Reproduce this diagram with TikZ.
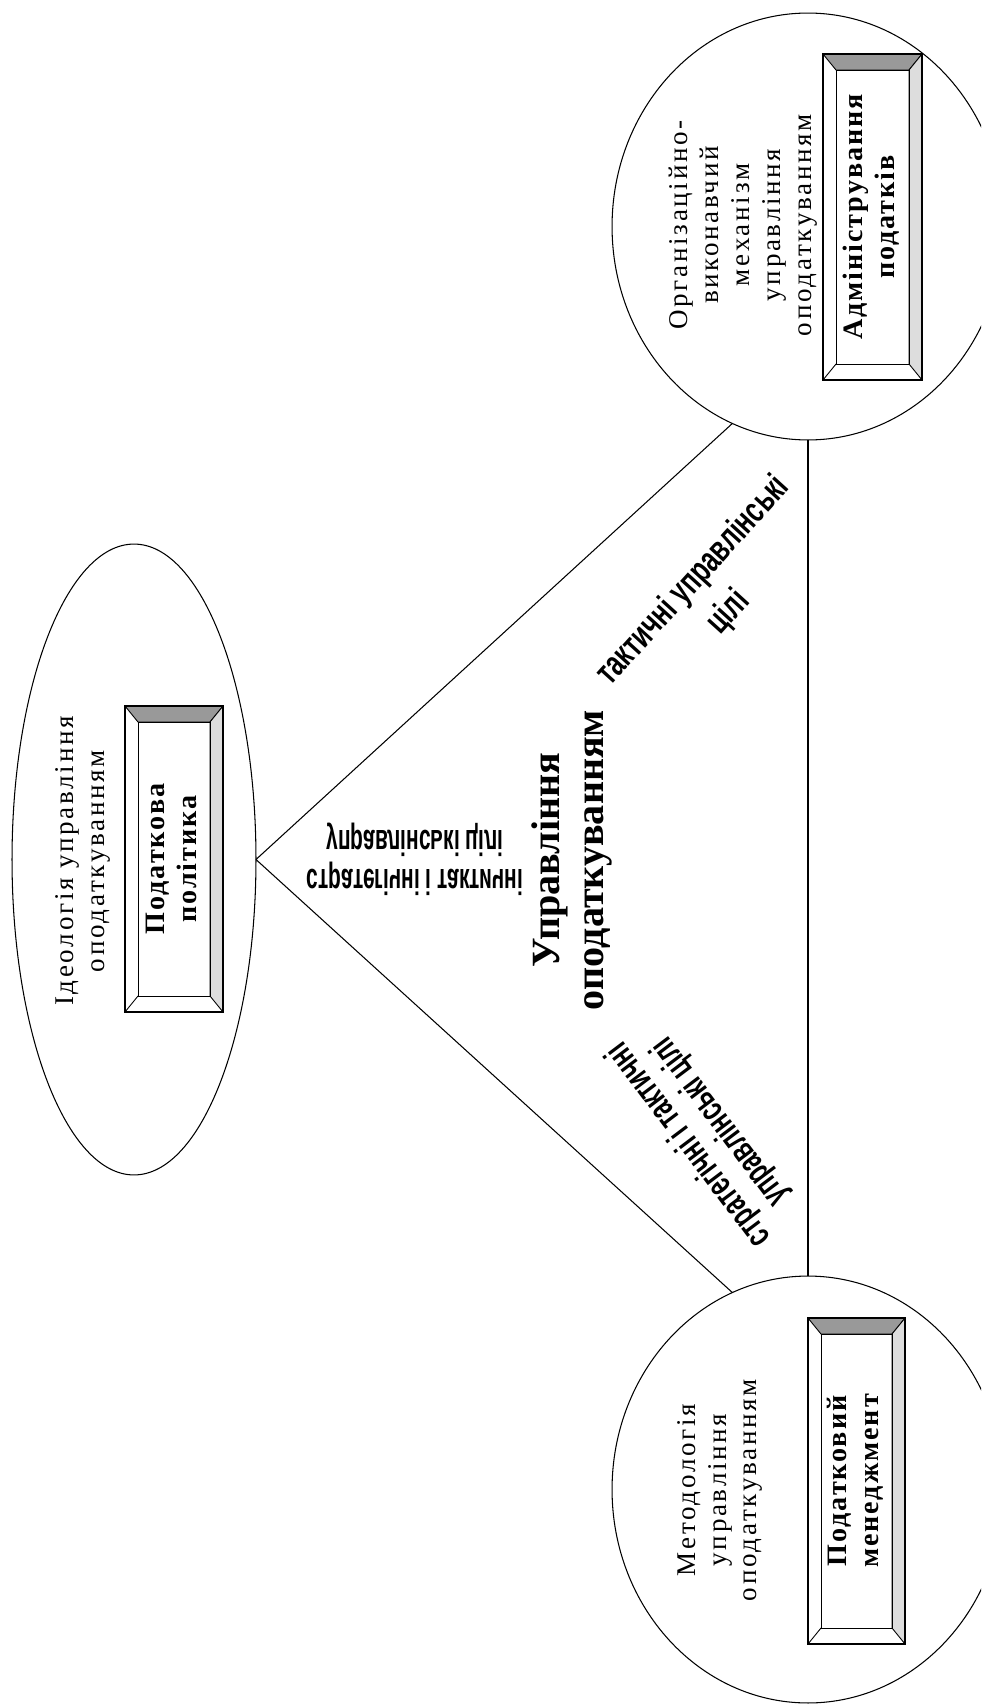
\documentclass[tikz,border=0pt]{standalone}
\usepackage{fontspec}
\setmainfont{Liberation Serif}
\newfontfamily\labelfont{Liberation Sans}
\usetikzlibrary{shapes.geometric}
\definecolor{bevdark}{HTML}{999999}
\definecolor{bevlight}{HTML}{DDDDDD}
\newcommand{\vtext}[1]{\rotatebox{90}{\begin{tabular}{@{}c@{}}#1\end{tabular}}}

\begin{document}
\begin{tikzpicture}[x=0.02cm, y=-0.02cm, line width=0.6pt,
    oval/.style={draw, ellipse, inner sep=0pt, outer sep=0pt},
    plain/.style={rotate=90, align=center, inner sep=0pt,
      font=\fontsize{15.4}{17.6}\selectfont\addfontfeatures{LetterSpace=10}},
    title/.style={rotate=90, align=center, inner sep=0pt,
      font=\fontsize{22.8}{25}\selectfont\bfseries},
    goal/.style={align=center, inner sep=0pt,
      font=\labelfont\bfseries\fontsize{20.5}{22}\selectfont},
    bevelbox/.style={draw, line width=0.8pt, inner sep=0pt, outer sep=0pt,
      font=\fontsize{16}{18.2}\selectfont\bfseries\addfontfeatures{LetterSpace=7},
      path picture={
        \path (path picture bounding box.north west) coordinate (nw)
              (path picture bounding box.north east) coordinate (ne)
              (path picture bounding box.south west) coordinate (sw)
              (path picture bounding box.south east) coordinate (se);
        \draw[line width=0.5pt, fill=bevdark] (nw) -- (ne)
          -- ([xshift=-0.26cm, yshift=-0.32cm]ne) -- ([xshift=0.26cm, yshift=-0.32cm]nw) -- cycle;
        \draw[line width=0.5pt, fill=bevlight] (ne) -- (se)
          -- ([xshift=-0.26cm, yshift=0.32cm]se) -- ([xshift=-0.26cm, yshift=-0.32cm]ne) -- cycle;
        \draw[line width=0.5pt] ([xshift=0.26cm, yshift=-0.32cm]nw) rectangle ([xshift=-0.26cm, yshift=0.32cm]se);
        \draw[line width=0.5pt] (sw) -- ([xshift=0.26cm, yshift=0.32cm]sw);
      }}]
  \useasboundingbox (0,0) rectangle (981,1706);
  \clip (0,0) rectangle (981,1706);

  % ideology
  \node[oval, minimum width=4.88cm, minimum height=12.62cm] (ideo) at (134,859.5) {};
  \node[plain] (ideotext) at (83,861) {Ідеологія управління\\оподаткуванням};
  \node[bevelbox, minimum width=1.96cm, minimum height=6.12cm] (policy) at (174,859) {\vtext{Податкова\\політика}};

  % organisation mechanism
  \node[oval, minimum width=7.84cm, minimum height=8.54cm] (admin) at (808,226.5) {};
  \node[plain] (admintext) at (743,225) {Організаційно-\\виконавчий\\механізм\\управління\\оподаткуванням};
  \node[bevelbox, minimum width=1.98cm, minimum height=6.52cm] (adminbox) at (872.5,217) {\vtext{Адміністрування\\податків}};

  % methodology
  \node[oval, minimum width=7.84cm, minimum height=8.54cm] (method) at (808,1489.5) {};
  \node[plain] (methodtext) at (720,1490) {Методологія\\управління\\оподаткуванням};
  \node[bevelbox, minimum width=1.94cm, minimum height=6.52cm] (mgmtbox) at (856.5,1481) {\vtext{Податковий\\менеджмент}};

  \draw (ideo.east) -- (admin.249);
  \draw (ideo.east) -- (method.111);
  \draw (admin.south) -- (method.north);

  \node[title] (mgmt) at (572,860) {Управління\\оподаткуванням};

  \node[goal, xscale=0.58, yscale=-1] (goalsA) at (415,859) {стратегічні і тактичні\\управлінські цілі};
  \node[goal, rotate=127, xscale=0.66] (goalsB) at (705,1133) {стратегічні і тактичні\\управлінські цілі};
  \node[goal, rotate=47.8, xscale=0.69, font=\labelfont\bfseries\fontsize{20.5}{27}\selectfont] (goalsC) at (711,597) {тактичні управлінські\\цілі};
\end{tikzpicture}
\end{document}
